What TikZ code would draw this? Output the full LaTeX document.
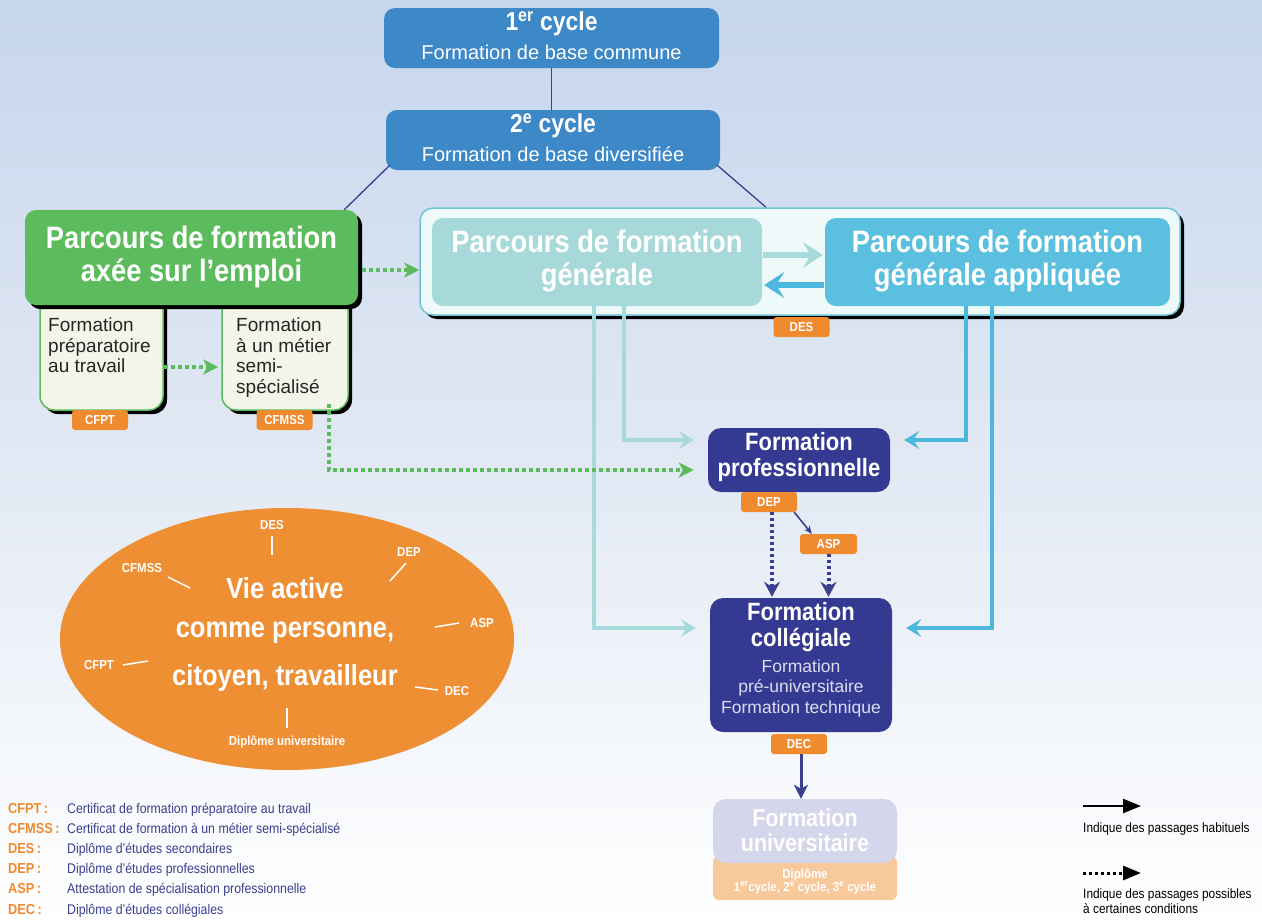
\documentclass[tikz,border=0pt]{standalone}
\usepackage{fontspec}
\setmainfont{Liberation Sans}
\newfontfamily\cond{Liberation Sans}[FakeStretch=0.88]
\usetikzlibrary{arrows.meta,shapes.geometric,shadows}
\definecolor{bgtop}{RGB}{198,214,237}
\definecolor{cycleblue}{RGB}{61,136,198}
\definecolor{navy}{RGB}{52,58,146}
\definecolor{navyline}{RGB}{58,63,143}
\definecolor{greenB}{RGB}{92,187,92}
\definecolor{cream}{RGB}{241,246,232}
\definecolor{orangeB}{RGB}{239,138,47}
\definecolor{orangeE}{RGB}{239,143,51}
\definecolor{tealL}{RGB}{168,217,218}
\definecolor{blueR}{RGB}{91,191,223}
\definecolor{outerfill}{RGB}{238,250,250}
\definecolor{outerdraw}{RGB}{108,197,213}
\definecolor{tealline}{RGB}{166,218,219}
\definecolor{blueline}{RGB}{77,184,221}
\definecolor{univ}{RGB}{213,213,235}
\definecolor{dipl}{RGB}{248,201,155}
\definecolor{legtext}{RGB}{58,63,143}
\definecolor{subtext}{RGB}{220,220,240}
\begin{document}
\begin{tikzpicture}[x=1pt,y=-1pt,
  box/.style={rounded corners=11pt, inner sep=0pt},
  shad/.style={drop shadow={shadow xshift=4pt,shadow yshift=-4pt,fill=black,opacity=1}},
  badge/.style={fill=orangeB, rounded corners=3pt, minimum width=56pt, minimum height=20pt, inner sep=0pt, text=white, font=\cond\bfseries\fontsize{13}{13}\selectfont},
  bigtitle/.style={text=white, align=center, font=\cond\bfseries\fontsize{31}{33}\selectfont},
  midtitle/.style={text=white, align=center, font=\cond\bfseries\fontsize{25}{26}\selectfont},
  subtxt/.style={anchor=north west, align=left, text=black!85, inner sep=0pt, font=\fontsize{19}{20.5}\selectfont},
  navyconn/.style={draw=navyline, line width=1.3pt},
  tealarrow/.style={draw=tealline, line width=3.5pt, -{Stealth[length=15pt,width=18pt,inset=6pt]}},
  bluearrow/.style={draw=blueline, line width=3.5pt, -{Stealth[length=15pt,width=18pt,inset=6pt]}},
  thickteal/.style={draw=tealline, line width=6pt, -{Stealth[length=20pt,width=26pt,inset=8pt]}},
  thickblue/.style={draw=blueline, line width=6pt, -{Stealth[length=20pt,width=26pt,inset=8pt]}},
  greendot/.style={draw=greenB, line width=3.5pt, dash pattern=on 4pt off 3pt, -{Stealth[length=15pt,width=15pt,inset=4pt]}},
  navydot/.style={draw=navyline, line width=4pt, dash pattern=on 3pt off 3pt, -{Stealth[length=15pt,width=16pt,inset=5pt]}},
  navysolid/.style={draw=navyline, line width=3pt, -{Stealth[length=14pt,width=14pt,inset=4pt]}},
  elab/.style={text=white, font=\cond\bfseries\fontsize{13}{13}\selectfont, inner sep=0pt},
  eline/.style={draw=white, line width=1.5pt},
  etext/.style={text=white, font=\cond\bfseries\fontsize{29}{29}\selectfont, inner sep=0pt},
  legab/.style={anchor=base west, text=orangeB, font=\cond\bfseries\fontsize{14.5}{15}\selectfont, inner sep=0pt},
  legdesc/.style={anchor=base west, text=legtext, font=\cond\fontsize{14}{15}\selectfont, inner sep=0pt},
  legr/.style={anchor=base west, text=black, align=left, font=\cond\fontsize{13.5}{14.5}\selectfont, inner sep=0pt}
]
\useasboundingbox (0,0) rectangle (1262,922);
\shade[top color=bgtop, bottom color=white, middle color={rgb,255:red,226;green,233;blue,244}] (0,0) rectangle (1262,922);

% cycles
\node[box, fill=cycleblue, minimum width=335pt, minimum height=60pt] (c1) at (551.5,38) {};
\node[text=white, font=\cond\bfseries\fontsize{26}{26}\selectfont, inner sep=0pt] (c1t) at (551.5,24) {1\textsuperscript{er} cycle};
\node[text=white, font=\fontsize{20}{20}\selectfont, inner sep=0pt] (c1s) at (551.5,52) {Formation de base commune};
\node[box, fill=cycleblue, minimum width=334pt, minimum height=60pt] (c2) at (553,140) {};
\node[text=white, font=\cond\bfseries\fontsize{26}{26}\selectfont, inner sep=0pt] (c2t) at (553,126) {2\textsuperscript{e} cycle};
\node[text=white, font=\fontsize{20}{20}\selectfont, inner sep=0pt] (c2s) at (553,154) {Formation de base diversifiée};
\draw[navyconn] (c1.south) -- (c1.south |- c2.north);

% employment track
\node[box, rounded corners=14pt, fill=cream, draw=greenB, line width=1.5pt, shad, minimum width=123pt, minimum height=120pt] (subL) at (101.5,350) {};
\node[box, rounded corners=14pt, fill=cream, draw=greenB, line width=1.5pt, shad, minimum width=126pt, minimum height=120pt] (subR) at (285,350) {};
\node[box, fill=greenB, shad, minimum width=333pt, minimum height=95pt] (green) at (191.5,257.5) {};
\node[bigtitle] (greent) at (191.5,257) {Parcours de formation\\axée sur l’emploi};
\node[subtxt] (subLt) at (48,318) {Formation\\préparatoire\\au travail};
\node[subtxt] (subRt) at (236,318) {Formation\\à un métier\\semi-\\spécialisé};
\node[badge] (cfpt) at (100,420) {CFPT};
\node[badge] (cfmss) at (284.5,420) {CFMSS};
\draw[navyconn] ([xshift=4pt,yshift=5pt]c2.south west) -- ([xshift=-14pt]green.north east);

% general track
\node[box, rounded corners=13pt, fill=outerfill, draw=outerdraw, line width=1.5pt, shad, minimum width=760pt, minimum height=107pt] (outer) at (800,261.5) {};
\draw[navyconn] ([xshift=-3pt,yshift=5pt]c2.south east) -- ([xshift=-34pt]outer.north);
\node[box, fill=tealL, minimum width=330pt, minimum height=88pt] (genL) at (597,262) {};
\node[bigtitle] (genLt) at (597,261) {Parcours de formation\\générale};
\node[box, fill=blueR, minimum width=345pt, minimum height=88pt] (genR) at (997.5,262) {};
\node[bigtitle] (genRt) at (997.5,261) {Parcours de formation\\générale appliquée};
\node[badge] (des) at (801.5,327) {DES};
\draw[thickteal] ([yshift=7pt,xshift=1pt]genL.east) -- ([yshift=7pt,xshift=-2pt]genR.west);
\draw[thickblue] ([yshift=-23pt,xshift=-1pt]genR.west) -- ([yshift=-23pt,xshift=2pt]genL.east);

% green dotted connectors
\draw[greendot] ([yshift=-12.5pt,xshift=4pt]green.east) -- ([yshift=-12.5pt]green.east -| outer.west);
\draw[greendot] ([yshift=-17pt]subL.east) -- ([yshift=-17pt,xshift=-3pt]subR.west);

% professional / college
\node[box, rounded corners=13pt, fill=navy, minimum width=182pt, minimum height=64pt] (FP) at (799,460) {};
\node[midtitle] (FPt) at (799,457) {Formation\\professionnelle};
\node[badge] (dep) at (769,502) {DEP};
\node[badge, minimum width=57pt] (asp) at (828.5,544) {ASP};
\node[box, rounded corners=13pt, fill=navy, minimum width=182pt, minimum height=134pt] (FC) at (801,665) {};
\node[midtitle] (FCt) at (801,627) {Formation\\collégiale};
\node[text=subtext, align=center, inner sep=0pt, font=\fontsize{17.5}{20}\selectfont] (FCs) at (801,688) {Formation\\pré-universitaire\\[1pt]Formation technique};
\node[badge] (dec) at (799,744) {DEC};
\node[box, rounded corners=6pt, fill=dipl, minimum width=184pt, minimum height=44pt] (dipl) at (805,878) {};
\node[box, rounded corners=13pt, fill=univ, minimum width=184pt, minimum height=64pt] (FU) at (805,831) {};
\node[midtitle, font=\cond\bfseries\fontsize{24.5}{25}\selectfont] (FUt) at (805,830) {Formation\\universitaire};
\node[text=white, align=center, inner sep=0pt, font=\cond\bfseries\fontsize{13}{13}\selectfont] (diplt) at (805,881) {Diplôme\\1\textsuperscript{er}cycle, 2\textsuperscript{e} cycle, 3\textsuperscript{e} cycle};

% teal / blue connectors
\draw[tealarrow, shorten >=14pt] ([xshift=27pt]genL.south) |- ([yshift=20pt]FP.west);
\draw[tealarrow, shorten >=14pt] ([xshift=-3pt]genL.south) |- ([yshift=37pt]FC.west);
\draw[bluearrow, shorten >=14pt] ([xshift=-31.5pt]genR.south) |- ([yshift=20pt]FP.east);
\draw[bluearrow, shorten >=14pt] ([xshift=-5.5pt]genR.south) |- ([yshift=37pt]FC.east);
\draw[greendot, shorten >=14pt] ([xshift=-20pt,yshift=7pt]subR.south east) |- ([yshift=-10pt]FP.west);

% navy connectors
\draw[draw=navyline, line width=1.6pt, -{Stealth[length=8pt,width=7pt]}] ([xshift=-3pt]dep.south east) -- ([xshift=12pt]asp.north west);
\draw[navydot] ([xshift=3pt]dep.south) -- ([xshift=3pt,yshift=1pt]dep.south |- FC.north);
\draw[navydot] (asp.south) -- ([yshift=1pt]asp.south |- FC.north);
\draw[navysolid] ([xshift=2pt]dec.south) -- ([xshift=2pt]dec.south |- FU.north);

% ellipse
\node[ellipse, fill=orangeE, minimum width=454pt, minimum height=262pt, inner sep=0pt] (vie) at (287,639) {};
\node[etext] (v1) at (285,588) {Vie active};
\node[etext] (v2) at (285,633) {comme personne,};
\node[etext] (v3) at (285,678) {citoyen, travailleur};
\node[elab] (eDES) at (272,525) {DES};
\node[elab] (eDEP) at (409,552) {DEP};
\node[elab] (eCFMSS) at (142,568) {CFMSS};
\node[elab] (eASP) at (482,623) {ASP};
\node[elab] (eCFPT) at (99,665) {CFPT};
\node[elab] (eDEC) at (457,691) {DEC};
\node[elab] (eDU) at (287,742) {Diplôme universitaire};
\draw[eline] (272,536) -- (272,555);
\draw[eline] (406,563) -- (390,581);
\draw[eline] (168,577) -- (190,588);
\draw[eline] (435,627) -- (459,623);
\draw[eline] (123,665) -- (148,661);
\draw[eline] (415,687) -- (438,690);
\draw[eline] (287,708) -- (287,728);

% legend left
\foreach \i/\y/\ab/\de in {1/813/CFPT/{Certificat de formation préparatoire au travail},
  2/833/CFMSS/{Certificat de formation à un métier semi-spécialisé},
  3/853/DES/{Diplôme d’études secondaires},
  4/873/DEP/{Diplôme d’études professionnelles},
  5/893/ASP/{Attestation de spécialisation professionnelle},
  6/914/DEC/{Diplôme d’études collégiales}}{
  \node[legab] (lab\i) at (8,\y) {\ab\,:};
  \node[legdesc] (lde\i) at (67,\y) {\de};
}

% legend right
\coordinate (ls1) at (1083,806);
\coordinate (ls2) at (1141,806);
\draw[line width=2.5pt, -{Stealth[length=18pt,width=14pt,inset=0pt]}] (ls1) -- (ls2);
\node[legr] (lrt1) at (1083,832) {Indique des passages habituels};
\coordinate (ld1) at (1083,873);
\coordinate (ld2) at (1141,873);
\draw[line width=3pt, dash pattern=on 3pt off 3pt, -{Stealth[length=18pt,width=14pt,inset=0pt]}] (ld1) -- (ld2);
\node[legr, anchor=north west] (lrt2) at (1083,889) {Indique des passages possibles\\à certaines conditions};
\end{tikzpicture}
\end{document}
